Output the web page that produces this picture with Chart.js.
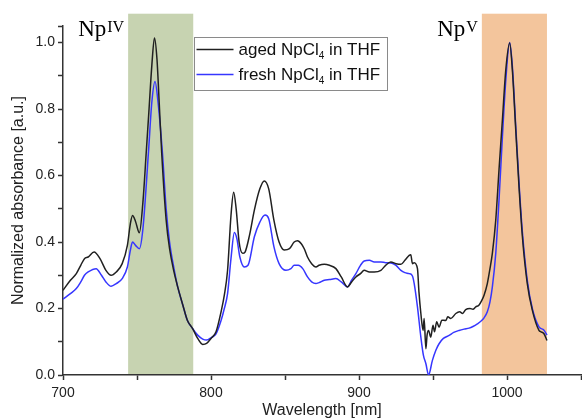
<!DOCTYPE html>
<html>
<head>
<meta charset="utf-8">
<script src="https://cdn.jsdelivr.net/npm/chart.js@4.4.1/dist/chart.umd.min.js"></script>
<style>
  html, body { margin: 0; padding: 0; background: #fff; }
  #wrap { width: 582px; height: 419px; }
</style>
</head>
<body>
<div id="wrap"><canvas id="myChart" width="582" height="419"></canvas></div>
<script>
// aged NpCl4 trace (black)
const agedNm = [700, 705, 709, 712, 714.5, 717, 721, 725, 729, 732.5, 736, 740, 743.5, 745.5, 747, 749, 751.6, 754, 756.2, 758, 760, 761.8, 763.5, 765, 766.7, 769.7, 772, 775, 777.5, 781, 784, 787.5, 791, 794.4, 797, 800, 803.4, 806.8, 809, 811.2, 813.5, 815.3, 817, 819, 821.4, 823, 826, 829.3, 833, 836, 839, 842.5, 846, 849.5, 853, 856.2, 858.5, 861, 863, 865.2, 868, 870.9, 873, 876.5, 880, 884.4, 888, 892.2, 895, 897.9, 901, 903.5, 907, 910.3, 914.8, 918, 921.5, 925, 928.3, 931, 933.9, 935, 936.1, 937.3, 939.5, 940.5, 941.8, 943.3, 944, 945.2, 946, 947, 948.5, 950, 951, 952.5, 954.1, 956, 958.6, 960, 962, 965.4, 968, 970, 972.1, 975, 977, 978.9, 981, 983, 984.5, 986.7, 988.5, 990.1, 992.4, 994.6, 996.9, 999.2, 1001.8, 1003.6, 1005.9, 1008.1, 1010.4, 1013.7, 1017.1, 1021.6, 1023, 1025, 1027];
const agedAbs = [0.255, 0.285, 0.305, 0.33, 0.35, 0.355, 0.37, 0.35, 0.315, 0.30, 0.31, 0.335, 0.39, 0.455, 0.48, 0.462, 0.428, 0.52, 0.667, 0.79, 0.93, 1.014, 0.95, 0.82, 0.667, 0.466, 0.38, 0.31, 0.265, 0.21, 0.165, 0.14, 0.11, 0.092, 0.095, 0.11, 0.13, 0.19, 0.24, 0.315, 0.48, 0.55, 0.50, 0.40, 0.366, 0.37, 0.42, 0.496, 0.56, 0.584, 0.56, 0.466, 0.40, 0.376, 0.38, 0.40, 0.404, 0.395, 0.38, 0.355, 0.335, 0.325, 0.33, 0.333, 0.33, 0.32, 0.295, 0.265, 0.28, 0.295, 0.305, 0.315, 0.31, 0.31, 0.315, 0.33, 0.34, 0.335, 0.333, 0.345, 0.36, 0.362, 0.335, 0.338, 0.32, 0.25, 0.185, 0.134, 0.17, 0.079, 0.12, 0.134, 0.114, 0.15, 0.13, 0.16, 0.144, 0.165, 0.164, 0.175, 0.17, 0.185, 0.19, 0.185, 0.197, 0.2, 0.198, 0.205, 0.21, 0.225, 0.24, 0.275, 0.32, 0.366, 0.466, 0.617, 0.768, 0.919, 0.999, 0.919, 0.738, 0.567, 0.416, 0.275, 0.195, 0.134, 0.13, 0.124, 0.104];

// fresh NpCl4 trace (blue)
const freshNm = [700, 705, 709, 712, 714.5, 717, 722.4, 726, 729, 732.5, 736, 740, 743.5, 745.5, 747, 749, 751.6, 754, 757.7, 760, 762.2, 764, 767.2, 769.7, 772, 775, 777.5, 781, 784, 787.5, 791, 794.4, 797, 800, 803.4, 806.8, 809, 811.2, 813.5, 815.8, 817.5, 819.5, 822.5, 825, 829.3, 833, 836.5, 839, 842.5, 846, 850.6, 854, 856.2, 859, 862, 865.2, 868, 870.9, 873, 876.5, 880, 884.4, 888, 892.2, 895, 897.9, 901, 903.5, 907, 910.3, 914.8, 918, 921.5, 925, 928.3, 931, 933.9, 936.1, 937.3, 939.5, 941.8, 943.5, 945.2, 947, 949.6, 952, 954.1, 957, 960.9, 964, 967.6, 971, 974.4, 977, 980, 982.7, 984.5, 986.7, 988.5, 990.1, 992.4, 994.6, 996.9, 999.2, 1001.8, 1003.6, 1005.9, 1008.1, 1010.4, 1013.7, 1017.1, 1021.6, 1025, 1027];
const freshAbs = [0.228, 0.245, 0.26, 0.28, 0.30, 0.31, 0.32, 0.30, 0.28, 0.267, 0.275, 0.29, 0.325, 0.375, 0.40, 0.39, 0.38, 0.44, 0.667, 0.82, 0.883, 0.83, 0.667, 0.50, 0.40, 0.32, 0.265, 0.21, 0.165, 0.14, 0.12, 0.108, 0.105, 0.112, 0.124, 0.164, 0.20, 0.245, 0.35, 0.429, 0.41, 0.355, 0.325, 0.33, 0.416, 0.46, 0.481, 0.47, 0.386, 0.335, 0.315, 0.32, 0.33, 0.33, 0.32, 0.295, 0.28, 0.275, 0.278, 0.285, 0.287, 0.29, 0.28, 0.265, 0.285, 0.305, 0.33, 0.343, 0.345, 0.34, 0.34, 0.338, 0.337, 0.33, 0.315, 0.308, 0.305, 0.298, 0.275, 0.205, 0.114, 0.06, 0.034, 0.0, 0.044, 0.075, 0.094, 0.11, 0.119, 0.128, 0.134, 0.138, 0.141, 0.146, 0.154, 0.163, 0.172, 0.19, 0.22, 0.265, 0.366, 0.526, 0.717, 0.888, 1.0, 0.93, 0.75, 0.58, 0.43, 0.285, 0.20, 0.145, 0.135, 0.12];

// legend texts, "_" marks the subscript digit
const seriesLabels = ["aged NpCl_4 in THF", "fresh NpCl_4 in THF"];
const seriesColors = ["#202020", "#3636ff"];

// shaded bands in nm, and the labels that sit left of them
const bands = [[744, 788], [983, 1027]];
const bandColors = ["#c7d3b1", "#f3c59c"];
const bandLabels = [["Np", "IV"], ["Np", "V"]];
const bandTop = 1.087;

const xLabelTicks = [700, 800, 900, 1000];

function toPoints(xs, ys) {
  return xs.map((x, i) => ({ x: x, y: ys[i] }));
}

const serif = "'Liberation Serif', 'DejaVu Serif', serif";
const sans = "'Liberation Sans', Arial, sans-serif";

// shaded bands go under everything
const bandPlugin = {
  id: "bands",
  beforeDraw(chart) {
    const { ctx, scales } = chart;
    const xs = scales.x, ys = scales.y;
    ctx.save();
    bands.forEach((b, i) => {
      const x0 = xs.getPixelForValue(b[0]);
      const x1 = xs.getPixelForValue(b[1]);
      const y0 = ys.getPixelForValue(bandTop);
      const y1 = ys.getPixelForValue(0);
      ctx.fillStyle = bandColors[i];
      ctx.fillRect(x0, y0, x1 - x0, y1 - y0);
      // Np label with superscript
      ctx.fillStyle = "#000";
      ctx.textBaseline = "alphabetic";
      ctx.font = "23px " + serif;
      const main = bandLabels[i][0];
      const mw = ctx.measureText(main).width;
      ctx.font = "16px " + serif;
      const sw = ctx.measureText(bandLabels[i][1]).width;
      const right = x0 - 4;
      const left = right - mw - sw - 1;
      ctx.font = "23px " + serif;
      ctx.fillText(main, left, 36);
      ctx.font = "16px " + serif;
      ctx.fillText(bandLabels[i][1], left + mw + 1, 32);
    });
    ctx.restore();
  }
};

// boxed legend with subscripts
const legendPlugin = {
  id: "boxLegend",
  afterDraw(chart) {
    const { ctx, chartArea } = chart;
    const bx = chartArea.left + 131.5, by = 37.5, bw = 193, bh = 53;
    ctx.save();
    ctx.fillStyle = "#fff";
    ctx.fillRect(bx, by, bw, bh);
    ctx.strokeStyle = "#8a8a8a";
    ctx.lineWidth = 1;
    ctx.strokeRect(bx, by, bw, bh);
    seriesLabels.forEach((lab, i) => {
      const y = by + 12 + i * 25;
      ctx.strokeStyle = seriesColors[i];
      ctx.lineWidth = 1.5;
      ctx.beginPath();
      ctx.moveTo(bx + 2, y);
      ctx.lineTo(bx + 39, y);
      ctx.stroke();
      const parts = lab.split("_");
      let tx = bx + 44;
      ctx.fillStyle = "#111";
      ctx.textBaseline = "middle";
      ctx.font = "17px " + sans;
      ctx.fillText(parts[0], tx, y + 1);
      tx += ctx.measureText(parts[0]).width;
      ctx.font = "10px " + sans;
      ctx.fillText(parts[1][0], tx, y + 7);
      tx += ctx.measureText(parts[1][0]).width;
      ctx.font = "17px " + sans;
      ctx.fillText(parts[1].slice(1), tx, y + 1);
    });
    ctx.restore();
  }
};

const axisColor = "#333";
const titleFont = { family: sans, size: 16 };

const myChart = new Chart(document.getElementById("myChart"), {
  type: "line",
  data: {
    datasets: [
      {
        label: seriesLabels[0],
        data: toPoints(agedNm, agedAbs),
        borderColor: seriesColors[0],
        borderWidth: 1.5,
        pointRadius: 0,
        cubicInterpolationMode: "monotone",
        fill: false
      },
      {
        label: seriesLabels[1],
        data: toPoints(freshNm, freshAbs),
        borderColor: seriesColors[1],
        borderWidth: 1.5,
        pointRadius: 0,
        cubicInterpolationMode: "monotone",
        fill: false
      }
    ]
  },
  options: {
    responsive: false,
    animation: false,
    devicePixelRatio: 1,
    layout: { padding: { top: 26, right: 0, left: 0, bottom: 0 } },
    plugins: { legend: { display: false }, tooltip: { enabled: false } },
    scales: {
      x: {
        type: "linear",
        min: 700,
        max: 1050,
        afterFit(scale) { scale.height = 44; },
        border: { display: true, color: axisColor, width: 1.5 },
        grid: { display: true, drawOnChartArea: false, drawTicks: true, tickLength: 5, tickColor: axisColor, tickWidth: 1.5 },
        ticks: {
          stepSize: 50,
          // small padding keeps the axis running to the right edge; line height pushes labels down
          padding: 1,
          color: "#222",
          font: { family: sans, size: 14, lineHeight: 1.8 },
          maxRotation: 0,
          autoSkip: false,
          callback: (v) => xLabelTicks.includes(v) ? String(v) : ""
        },
        title: { display: true, text: "Wavelength [nm]", color: "#222", font: titleFont, padding: { top: 0, bottom: -1 } }
      },
      y: {
        min: 0,
        max: 1.05,
        afterFit(scale) { scale.width = 63; },
        border: { display: true, color: axisColor, width: 1.5 },
        grid: { display: true, drawOnChartArea: false, drawTicks: true, tickLength: 5, tickColor: axisColor, tickWidth: 1.5 },
        ticks: {
          stepSize: 0.1,
          padding: 3,
          color: "#222",
          font: { family: sans, size: 14 },
          autoSkip: false,
          callback: (v) => Math.round(v * 10) % 2 === 0 ? v.toFixed(1) : ""
        },
        title: { display: true, text: "Normalized absorbance [a.u.]", color: "#222", font: titleFont, padding: { top: 9, bottom: 0 } }
      }
    }
  },
  plugins: [bandPlugin, legendPlugin]
});
</script>
</body>
</html>
